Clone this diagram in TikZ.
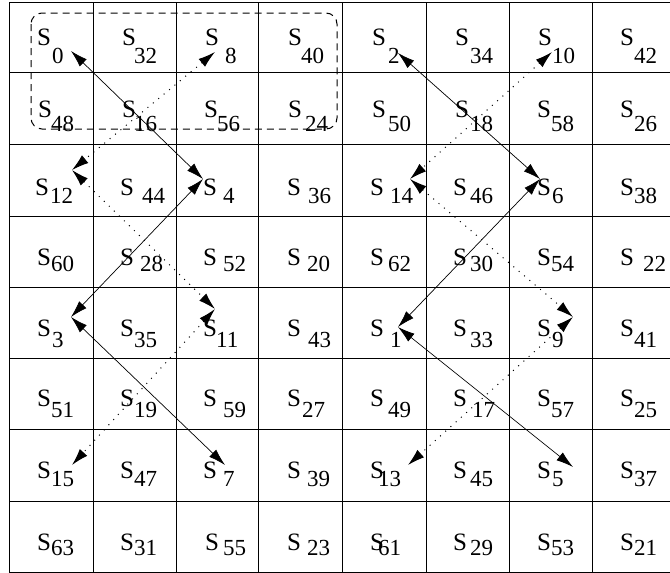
\documentclass[tikz,border=0pt]{standalone}
\usepackage{fontspec}
\setmainfont{Liberation Serif}
\usetikzlibrary{arrows.meta}
\tikzset{
  sS/.style={anchor=base west,inner sep=0pt,font=\fontsize{25}{25}\selectfont},
  sN/.style={anchor=base west,inner sep=0pt,font=\fontsize{23}{23}\selectfont},
  gridline/.style={line width=0.9pt},
  sol/.style={line width=0.7pt,{Latex[length=17pt,width=10pt]}-{Latex[length=17pt,width=10pt]}},
  dot/.style={line width=1pt,dash pattern=on 1pt off 6pt,{Latex[length=17pt,width=10pt]}-{Latex[length=17pt,width=10pt]}},
  group/.style={line width=1pt,dash pattern=on 7pt off 5pt,rounded corners=11pt}
}
\newcommand\sq[5]{\node[sS] (s#1) at (#2,#3) {S}; \node[sN] (n#1) at (#4,#5) {#1};}
\begin{document}
\begin{tikzpicture}[x=1pt,y=-1pt]
\useasboundingbox (0,0) rectangle (670,573);
\clip (0,0) rectangle (670,573);
\fill[white] (0,0) rectangle (670,573);
% grid
\foreach \x in {9,93,176,258,342,426,509,592} \draw[gridline] (\x,2) -- (\x,572);
\foreach \y in {2,72,144,216,287,358,429,501,572} \draw[gridline] (9,\y) -- (680,\y);
% row 0
\sq{0}{37}{45}{52}{63}
\sq{32}{122}{45}{134}{63}
\sq{8}{205}{45}{225}{63}
\sq{40}{288}{45}{301}{63}
\sq{2}{372}{45}{388}{63}
\sq{34}{455}{45}{470}{63}
\sq{10}{538}{45}{552}{63}
\sq{42}{620}{45}{634}{63}
% row 1
\sq{48}{38}{117}{51}{131}
\sq{16}{122}{117}{134}{131}
\sq{56}{204}{117}{217}{131}
\sq{24}{288}{117}{305}{131}
\sq{50}{372}{117}{388}{131}
\sq{18}{455}{117}{470}{131}
\sq{58}{537}{117}{551}{131}
\sq{26}{620}{117}{634}{131}
% row 2
\sq{12}{35}{195}{50}{203}
\sq{44}{120}{195}{142}{203}
\sq{4}{203}{195}{223}{203}
\sq{36}{287}{195}{308}{203}
\sq{14}{370}{195}{390}{203}
\sq{46}{453}{195}{470}{203}
\sq{6}{537}{195}{552}{203}
\sq{38}{620}{195}{634}{203}
% row 3
\sq{60}{37}{265}{51}{271}
\sq{28}{120}{265}{140}{271}
\sq{52}{203}{265}{223}{271}
\sq{20}{287}{265}{307}{271}
\sq{62}{370}{265}{388}{271}
\sq{30}{453}{265}{470}{271}
\sq{54}{537}{265}{551}{271}
\sq{22}{620}{265}{643}{271}
% row 4
\sq{3}{37}{336}{52}{347}
\sq{35}{120}{336}{134}{347}
\sq{11}{203}{336}{216}{347}
\sq{43}{287}{336}{308}{347}
\sq{1}{370}{336}{390}{347}
\sq{33}{453}{336}{470}{347}
\sq{9}{537}{336}{552}{347}
\sq{41}{620}{336}{634}{347}
% row 5
\sq{51}{37}{406}{51}{417}
\sq{19}{120}{406}{134}{417}
\sq{59}{203}{406}{223}{417}
\sq{27}{287}{406}{302}{417}
\sq{49}{370}{406}{388}{417}
\sq{17}{453}{406}{472}{417}
\sq{57}{537}{406}{551}{417}
\sq{25}{620}{406}{634}{417}
% row 6
\sq{15}{37}{478}{51}{486}
\sq{47}{120}{478}{134}{486}
\sq{7}{203}{478}{223}{486}
\sq{39}{287}{478}{307}{486}
\sq{13}{370}{478}{378}{486}
\sq{45}{453}{478}{470}{486}
\sq{5}{537}{478}{552}{486}
\sq{37}{620}{478}{634}{486}
% row 7
\sq{63}{37}{550}{51}{555}
\sq{31}{120}{550}{134}{555}
\sq{55}{205}{550}{223}{555}
\sq{23}{287}{550}{307}{555}
\sq{61}{370}{550}{378}{555}
\sq{29}{453}{550}{470}{555}
\sq{53}{537}{550}{551}{555}
\sq{21}{620}{550}{634}{555}
% group box
\draw[group] (31,13) rectangle (337,129);
% arrow tip coordinates
\coordinate (a0) at (71,51);
\coordinate (a4) at (203,179);
\coordinate (a3) at (71,317);
\coordinate (a7) at (225,465);
\coordinate (a2) at (398,53);
\coordinate (a6) at (540,179);
\coordinate (a1) at (398,327);
\coordinate (a5) at (573,467);
\coordinate (a8) at (215,52);
\coordinate (a12) at (72,170);
\coordinate (a11) at (215,309);
\coordinate (a15) at (72,465);
\coordinate (a10) at (552,52);
\coordinate (a14) at (410,179);
\coordinate (a9) at (573,317);
\coordinate (a13) at (408,465);
% solid zigzags
\draw[sol] (a0) -- (a4);
\draw[sol] (a4) -- (a3);
\draw[sol] (a3) -- (a7);
\draw[sol] (a2) -- (a6);
\draw[sol] (a6) -- (a1);
\draw[sol] (a1) -- (a5);
% dotted zigzags
\draw[dot] (a8) -- (a12);
\draw[dot] (a12) -- (a11);
\draw[dot] (a11) -- (a15);
\draw[dot] (a10) -- (a14);
\draw[dot] (a14) -- (a9);
\draw[dot] (a9) -- (a13);
\end{tikzpicture}
\end{document}
